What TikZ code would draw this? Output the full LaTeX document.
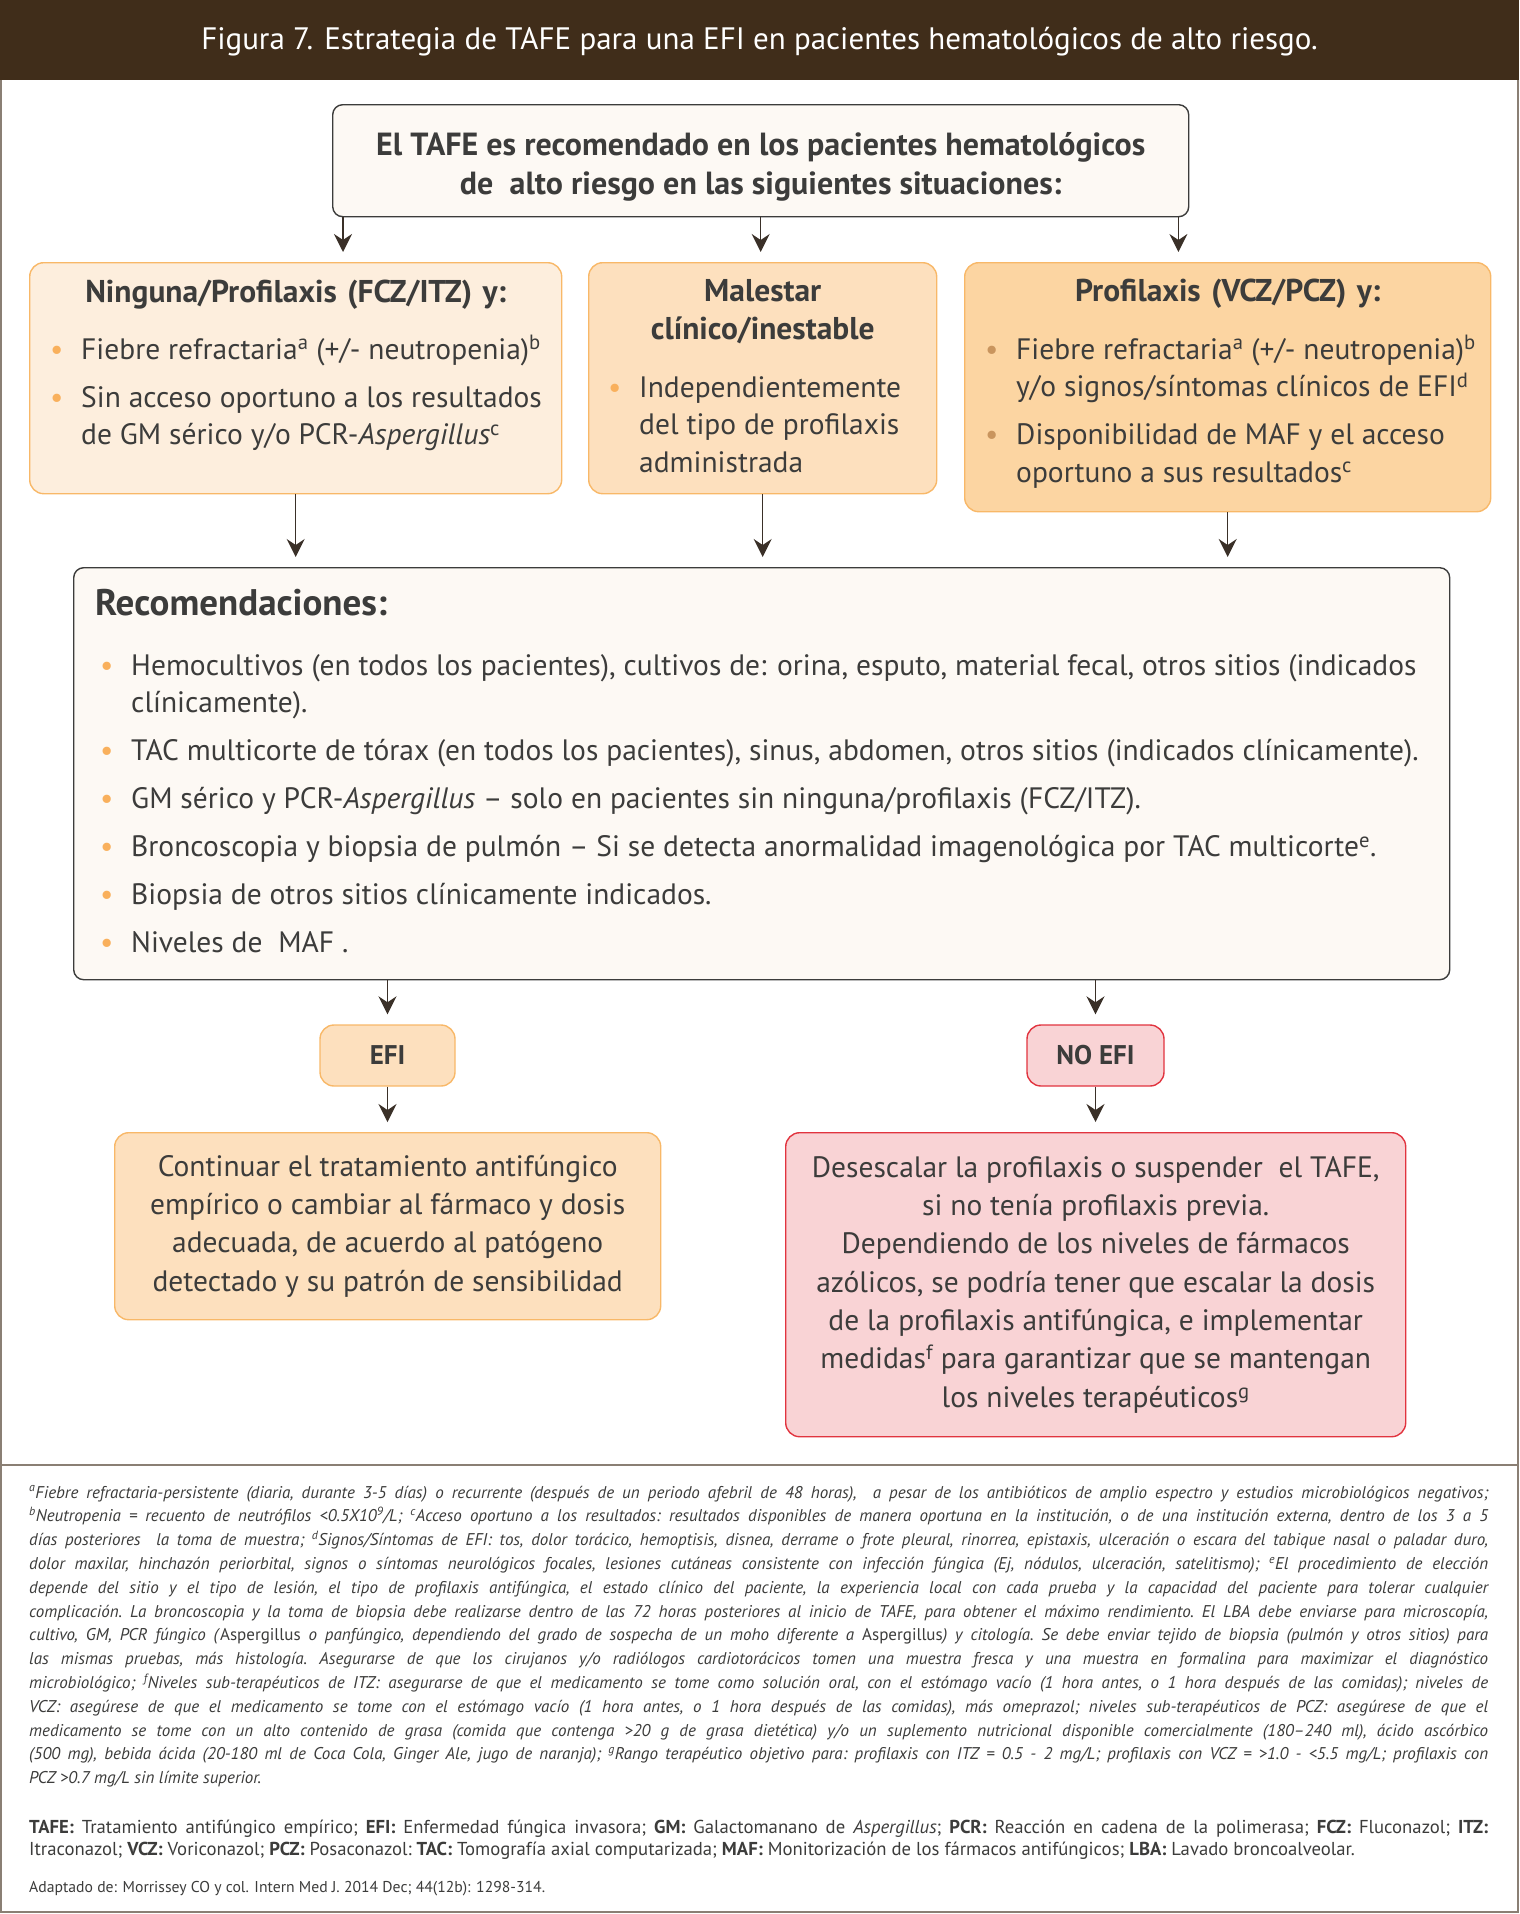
\documentclass[tikz,border=0pt]{standalone}
\usepackage{fontspec}
\setmainfont{PT Sans}
\usetikzlibrary{arrows.meta}

\definecolor{hdrbrown}{HTML}{402D1A}
\definecolor{framegray}{HTML}{8A7F74}
\definecolor{ink}{HTML}{3C3C3B}
\definecolor{arrowink}{HTML}{3A3028}
\definecolor{creamfill}{HTML}{FDF9F4}
\definecolor{peachA}{HTML}{FDEEDD}
\definecolor{peachB}{HTML}{FDE0BE}
\definecolor{peachC}{HTML}{FCD5A2}
\definecolor{orangeline}{HTML}{F8B868}
\definecolor{dotorange}{HTML}{F9B05C}
\definecolor{dotbrown}{HTML}{C9955E}
\definecolor{pinkfill}{HTML}{F9D3D5}
\definecolor{redline}{HTML}{E1343F}

% bullet item with hanging indent
\newcommand{\dotitem}[2][dotorange]{\par\hangindent=31pt\hangafter=1\noindent
  \makebox[31pt][l]{\textcolor{#1}{\textbullet}}#2\par}
\newcommand{\itembox}[2]{\parbox[t]{#1}{\setlength{\parskip}{10.5pt}#2}}

\begin{document}
\begin{tikzpicture}[x=1pt,y=-1pt,
  every node/.style={text=ink},
  frame/.style={draw=framegray, line width=1.6pt},
  panel/.style={draw=orangeline, line width=1.4pt, rounded corners=14pt, anchor=north west, inner sep=0pt},
  darkpanel/.style={draw=ink, line width=1.4pt, rounded corners=10pt, fill=creamfill, anchor=north west, inner sep=0pt},
  arr/.style={draw=arrowink, line width=1.5pt, shorten >=10pt, -{Stealth[length=18pt,width=18pt,inset=6pt]}},
  hd/.style={font=\fontsize{31.5}{38}\selectfont\bfseries, align=center, inner sep=0pt, anchor=base},
  body/.style={font=\fontsize{29.5}{37.5}\selectfont, inner sep=0pt, anchor=base west},
  note/.style={inner sep=0pt, anchor=base west, text width=1459pt, align=justify}]
\useasboundingbox (0,0) rectangle (1519,1914);

% header and frame
\fill[hdrbrown] (0,0) rectangle (1519,80);
\node[text=white, font=\fontsize{31}{33}\selectfont] (title) at (759.5,42)
  {Figura 7. Estrategia de TAFE para una EFI en pacientes hematológicos de alto riesgo.};
\draw[frame] (1,80) -- (1,1912) -- (1518,1912) -- (1518,80);
\draw[frame] (1,1465) -- (1518,1465);

% top box
\node[darkpanel, minimum width=856pt, minimum height=112pt] (top) at (332,104) {};
\node[font=\fontsize{32}{39}\selectfont\bfseries, align=center, inner sep=0pt] (topmsg) at ([yshift=-6pt]top.center)
  {El TAFE es recomendado en los pacientes hematológicos\\de\ \ alto riesgo en las siguientes situaciones:};

% three situations
\node[panel, fill=peachA, minimum width=532pt, minimum height=231pt] (ninguna) at (29,262) {};
\node[panel, fill=peachB, minimum width=348pt, minimum height=231pt] (malestar) at (588,262) {};
\node[panel, fill=peachC, minimum width=526pt, minimum height=249pt] (profil) at (964,262) {};

\node[hd, text width=520pt] at ([yshift=-40pt]ninguna.north) {Ninguna/Profilaxis (FCZ/ITZ) y:};
\node[body] at ([xshift=21pt,yshift=-97pt]ninguna.north west)
  {\itembox{600pt}{\dotitem{Fiebre refractaria\textsuperscript{a} (+/- neutropenia)\textsuperscript{b}}
   \dotitem{Sin acceso oportuno a los resultados\newline de GM sérico y/o PCR-\textit{Aspergillus}\textsuperscript{c}}}};

\node[hd, text width=340pt] at ([yshift=-39pt]malestar.north) {Malestar\\clínico/inestable};
\node[body] at ([xshift=20pt,yshift=-135pt]malestar.north west)
  {\itembox{360pt}{\dotitem{Independientemente\newline del tipo de profilaxis\newline administrada}}};

\node[hd, text width=520pt] at ([yshift=-39pt]profil.north) {Profilaxis (VCZ/PCZ) y:};
\node[body] at ([xshift=21pt,yshift=-97pt]profil.north west)
  {\itembox{600pt}{\dotitem[dotbrown]{Fiebre refractaria\textsuperscript{a} (+/- neutropenia)\textsuperscript{b}\newline y/o signos/síntomas clínicos de EFI\textsuperscript{d}}
   \dotitem[dotbrown]{Disponibilidad de MAF y el acceso\newline oportuno a sus resultados\textsuperscript{c}}}};

\draw[arr] ([xshift=11pt]top.south west) -- ([xshift=11pt]top.south west |- ninguna.north);
\draw[arr] (top.south) -- (top.south |- malestar.north);
\draw[arr] ([xshift=-11pt]top.south east) -- ([xshift=-11pt]top.south east |- profil.north);

% recommendations
\node[darkpanel, fill=creamfill, minimum width=1376pt, minimum height=412pt] (recom) at (73,567) {};
\node[font=\fontsize{37}{40}\selectfont\bfseries, inner sep=0pt, anchor=base west] (recomtitle) at ([xshift=22pt,yshift=-48pt]recom.north west) {Recomendaciones:};
\node[body] at ([xshift=27pt,yshift=-108pt]recom.north west)
  {\itembox{1400pt}{\dotitem{Hemocultivos (en todos los pacientes), cultivos de: orina, esputo, material fecal, otros sitios (indicados\newline clínicamente).}
   \dotitem{TAC multicorte de tórax (en todos los pacientes), sinus, abdomen, otros sitios (indicados clínicamente).}
   \dotitem{GM sérico y PCR-\textit{Aspergillus} – solo en pacientes sin ninguna/profilaxis (FCZ/ITZ).}
   \dotitem{Broncoscopia y biopsia de pulmón – Si se detecta anormalidad imagenológica por TAC multicorte\textsuperscript{e}.}
   \dotitem{Biopsia de otros sitios clínicamente indicados.}
   \dotitem{Niveles de\ \ MAF~.}}};

\draw[arr] (ninguna.south) -- (ninguna.south |- recom.north);
\draw[arr] (malestar.south) -- (malestar.south |- recom.north);
\draw[arr] (profil.south) -- (profil.south |- recom.north);

% outcome
\node[panel, fill=peachB, anchor=center, minimum width=135pt, minimum height=61pt, font=\fontsize{27}{30}\selectfont\bfseries] (efi) at (387.5,1055.5) {EFI};
\node[panel, fill=pinkfill, draw=redline, anchor=center, minimum width=137pt, minimum height=61pt, font=\fontsize{27}{30}\selectfont\bfseries] (noefi) at (1095.5,1055.5) {NO EFI};

\node[panel, fill=peachB, minimum width=546pt, minimum height=187pt, align=center, font=\fontsize{29.5}{38.3}\selectfont] (cont) at (114,1132)
  {Continuar el tratamiento antifúngico\\empírico o cambiar al fármaco y dosis\\adecuada, de acuerdo al patógeno\\detectado y su patrón de sensibilidad};
\node[panel, fill=pinkfill, draw=redline, minimum width=620pt, minimum height=304pt, align=center, font=\fontsize{29.5}{38.3}\selectfont] (desc) at (785,1132)
  {Desescalar la profilaxis o suspender\ \ el TAFE,\\si no tenía profilaxis previa.\\Dependiendo de los niveles de fármacos\\azólicos, se podría tener que escalar la dosis\\de la profilaxis antifúngica, e implementar\\medidas\textsuperscript{f} para garantizar que se mantengan\\los niveles terapéuticos\textsuperscript{g}};

\draw[arr] (recom.south -| efi.north) -- (efi.north);
\draw[arr] (recom.south -| noefi.north) -- (noefi.north);
\draw[arr] (efi.south) -- (cont.north -| efi.south);
\draw[arr] (noefi.south) -- (desc.north -| noefi.south);

% notes
\node[note, font=\fontsize{17}{23.8}\selectfont\itshape\frenchspacing] (notes) at (29,1498)
  {\hyphenpenalty=10000 \textsuperscript{a}Fiebre refractaria-persistente (diaria, durante 3-5 días) o recurrente (después de un periodo afebril de 48 horas),\ \ a pesar de los antibióticos de amplio espectro y estudios microbiológicos negativos;\linebreak
  \textsuperscript{b}Neutropenia = recuento de neutrófilos <0.5X10\textsuperscript{9}/L; \textsuperscript{c}Acceso oportuno a los resultados: resultados disponibles de manera oportuna en la institución, o de una institución externa, dentro de los 3 a 5\linebreak
  días posteriores\ \ la toma de muestra; \textsuperscript{d}Signos/Síntomas de EFI: tos, dolor torácico, hemoptisis, disnea, derrame o frote pleural, rinorrea, epistaxis, ulceración o escara del tabique nasal o paladar duro,\linebreak
  dolor maxilar, hinchazón periorbital, signos o síntomas neurológicos focales, lesiones cutáneas consistente con infección fúngica (Ej, nódulos, ulceración, satelitismo); \textsuperscript{e}El procedimiento de elección\linebreak
  depende del sitio y el tipo de lesión, el tipo de profilaxis antifúngica, el estado clínico del paciente, la experiencia local con cada prueba y la capacidad del paciente para tolerar cualquier\linebreak
  complicación. La broncoscopia y la toma de biopsia debe realizarse dentro de las 72 horas posteriores al inicio de TAFE, para obtener el máximo rendimiento. El LBA debe enviarse para microscopía,\linebreak
  cultivo, GM, PCR fúngico (\textup{Aspergillus} o panfúngico, dependiendo del grado de sospecha de un moho diferente a \textup{Aspergillus}) y citología. Se debe enviar tejido de biopsia (pulmón y otros sitios) para\linebreak
  las mismas pruebas, más histología. Asegurarse de que los cirujanos y/o radiólogos cardiotorácicos tomen una muestra fresca y una muestra en formalina para maximizar el diagnóstico\linebreak
  microbiológico; \textsuperscript{f}Niveles sub-terapéuticos de ITZ: asegurarse de que el medicamento se tome como solución oral, con el estómago vacío (1 hora antes, o 1 hora después de las comidas); niveles de\linebreak
  VCZ: asegúrese de que el medicamento se tome con el estómago vacío (1 hora antes, o 1 hora después de las comidas), más omeprazol; niveles sub-terapéuticos de PCZ: asegúrese de que el\linebreak
  medicamento se tome con un alto contenido de grasa (comida que contenga >20 g de grasa dietética) y/o un suplemento nutricional disponible comercialmente (180–240 ml), ácido ascórbico\linebreak
  (500 mg), bebida ácida (20-180 ml de Coca Cola, Ginger Ale, jugo de naranja); \textsuperscript{g}Rango terapéutico objetivo para: profilaxis con ITZ = 0.5 - 2 mg/L; profilaxis con VCZ = >1.0 - <5.5 mg/L; profilaxis con\linebreak
  PCZ >0.7 mg/L sin límite superior.};

\node[note, font=\fontsize{18.7}{22}\selectfont\frenchspacing] (abbr) at (29,1833)
  {\textbf{TAFE:} Tratamiento antifúngico empírico; \textbf{EFI:} Enfermedad fúngica invasora; \textbf{GM:} Galactomanano de \textit{Aspergillus}; \textbf{PCR:} Reacción en cadena de la polimerasa; \textbf{FCZ:} Fluconazol; \textbf{ITZ:}\linebreak
  Itraconazol; \textbf{VCZ:} Voriconazol; \textbf{PCZ:} Posaconazol: \textbf{TAC:} Tomografía axial computarizada; \textbf{MAF:} Monitorización de los fármacos antifúngicos; \textbf{LBA:} Lavado broncoalveolar.};

\node[inner sep=0pt, anchor=base west, font=\fontsize{15.7}{18}\selectfont] (source) at (29,1892)
  {Adaptado de: Morrissey CO y col. Intern Med J. 2014 Dec; 44(12b): 1298-314.};
\end{tikzpicture}
\end{document}
